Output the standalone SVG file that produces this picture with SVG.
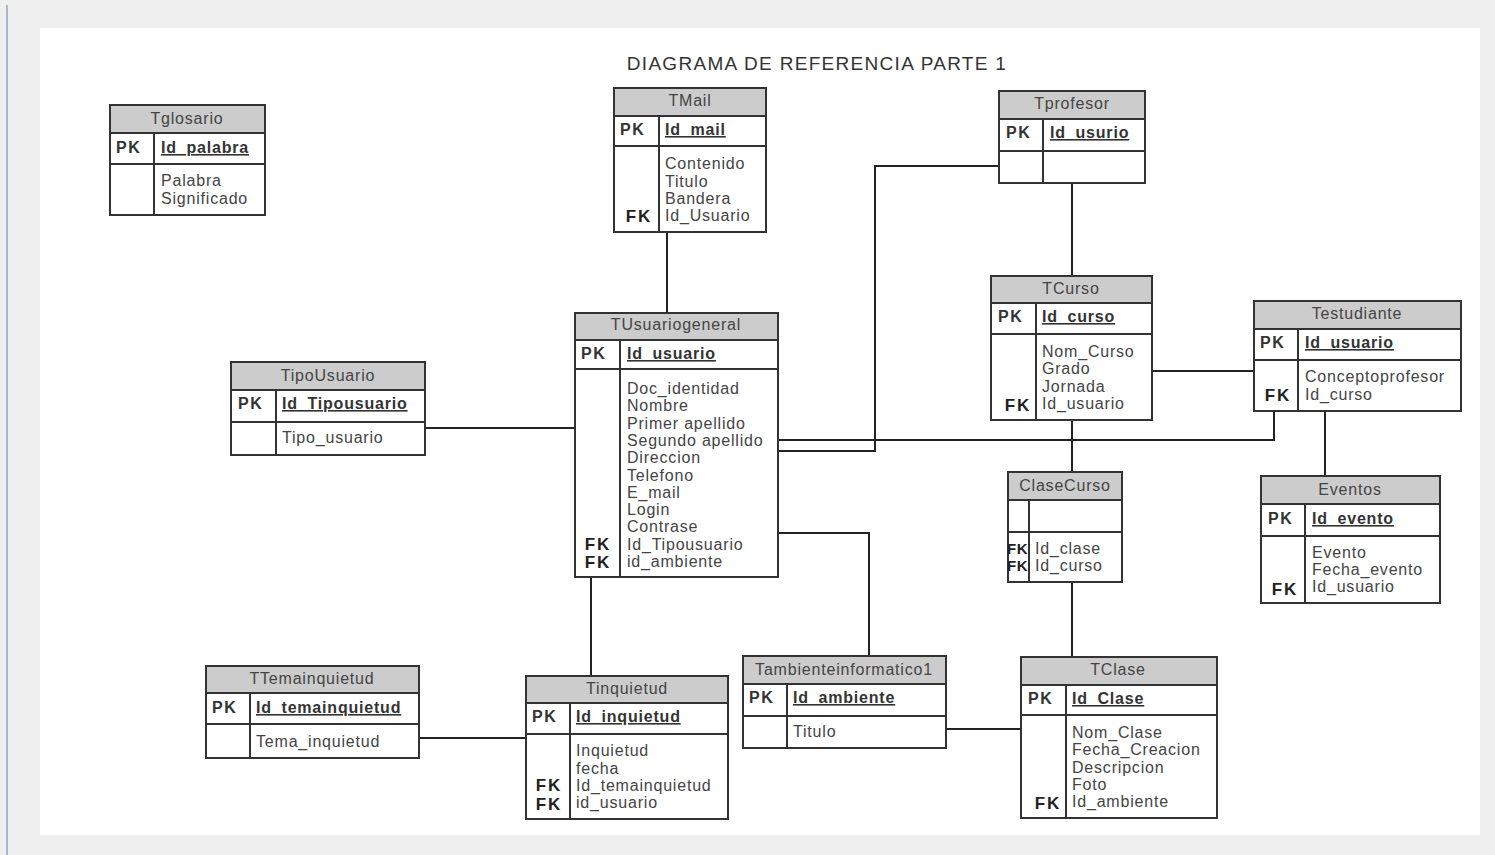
<svg xmlns="http://www.w3.org/2000/svg" width="1495" height="855" viewBox="0 0 1495 855">
<style>
.box{fill:#fff;stroke:#333;stroke-width:2}
.hdr{fill:#cccccc;stroke:#333;stroke-width:2}
.ln{stroke:#333;stroke-width:2;fill:none}
.cn{stroke:#222;stroke-width:2;fill:none}
text{font-family:"Liberation Sans",Arial,sans-serif}
.t{font-size:16px;letter-spacing:0.8px;fill:#444}
.h{font-size:16px;letter-spacing:0.8px;fill:#444;text-anchor:middle}
.pk{font-size:16px;font-weight:bold;letter-spacing:1.5px;fill:#333}
.fk{font-size:17px;font-weight:bold;letter-spacing:1.8px;fill:#222;text-anchor:end}
.fks{font-size:15px;font-weight:bold;letter-spacing:0.5px;fill:#222}
.key{font-size:16px;font-weight:bold;letter-spacing:0.8px;fill:#333;text-decoration:underline}
.title{font-size:19px;letter-spacing:1.3px;fill:#333;text-anchor:middle}
</style>
<rect x="0" y="0" width="1495" height="855" fill="#efefef"/>
<rect x="40" y="28" width="1440" height="807" fill="#ffffff"/>
<line x1="7" y1="5" x2="7" y2="855" stroke="#a8b4c8" stroke-width="2"/>
<text class="title" x="817" y="70">DIAGRAMA DE REFERENCIA PARTE 1</text>

<g id="connectors">
<path class="cn" d="M667 232V313"/>
<path class="cn" d="M425 428H575"/>
<path class="cn" d="M778 451H875V166H999"/>
<path class="cn" d="M1072 183V276"/>
<path class="cn" d="M1152 371H1254"/>
<path class="cn" d="M778 440H1274V411"/>
<path class="cn" d="M778 533H869V656"/>
<path class="cn" d="M1072 420V472"/>
<path class="cn" d="M1072 582V657"/>
<path class="cn" d="M1325 411V476"/>
<path class="cn" d="M946 729H1021"/>
<path class="cn" d="M591 577V676"/>
<path class="cn" d="M419 738H526"/>
</g>

<g id="Tglosario">
<rect class="box" x="110" y="105" width="155" height="110"/>
<rect class="hdr" x="110" y="105" width="155" height="28"/>
<path class="ln" d="M110 164H265M154 133V215"/>
<text class="h" x="187" y="124">Tglosario</text>
<text class="pk" x="116" y="153">PK</text>
<text class="key" x="161" y="153">Id_palabra</text>
<text class="t" x="161" y="186">Palabra</text>
<text class="t" x="161" y="204">Significado</text>
</g>

<g id="TMail">
<rect class="box" x="614" y="88" width="152" height="144"/>
<rect class="hdr" x="614" y="88" width="152" height="28"/>
<path class="ln" d="M614 146H766M659 116V232"/>
<text class="h" x="690" y="106">TMail</text>
<text class="pk" x="620" y="135">PK</text>
<text class="key" x="665" y="135">Id_mail</text>
<text class="t" x="665" y="169">Contenido</text>
<text class="t" x="665" y="187">Titulo</text>
<text class="t" x="665" y="204">Bandera</text>
<text class="t" x="665" y="221">Id_Usuario</text>
<text class="fk" x="652" y="222">FK</text>
</g>

<g id="Tprofesor">
<rect class="box" x="999" y="91" width="146" height="92"/>
<rect class="hdr" x="999" y="91" width="146" height="28"/>
<path class="ln" d="M999 151H1145M1043 119V183"/>
<text class="h" x="1072" y="109">Tprofesor</text>
<text class="pk" x="1006" y="138">PK</text>
<text class="key" x="1050" y="138">Id_usurio</text>
</g>

<g id="TCurso">
<rect class="box" x="991" y="276" width="161" height="144"/>
<rect class="hdr" x="991" y="276" width="161" height="27"/>
<path class="ln" d="M991 334H1152M1036 303V420"/>
<text class="h" x="1071" y="294">TCurso</text>
<text class="pk" x="998" y="322">PK</text>
<text class="key" x="1042" y="322">Id_curso</text>
<text class="t" x="1042" y="357">Nom_Curso</text>
<text class="t" x="1042" y="374">Grado</text>
<text class="t" x="1042" y="392">Jornada</text>
<text class="t" x="1042" y="409">Id_usuario</text>
<text class="fk" x="1031" y="411">FK</text>
</g>

<g id="Testudiante">
<rect class="box" x="1254" y="301" width="207" height="110"/>
<rect class="hdr" x="1254" y="301" width="207" height="28"/>
<path class="ln" d="M1254 360H1461M1298 329V411"/>
<text class="h" x="1357" y="319">Testudiante</text>
<text class="pk" x="1260" y="348">PK</text>
<text class="key" x="1305" y="348">Id_usuario</text>
<text class="t" x="1305" y="382">Conceptoprofesor</text>
<text class="t" x="1305" y="400">Id_curso</text>
<text class="fk" x="1291" y="401">FK</text>
</g>

<g id="TUsuariogeneral">
<rect class="box" x="575" y="313" width="203" height="264"/>
<rect class="hdr" x="575" y="313" width="203" height="27"/>
<path class="ln" d="M575 369H778M620 340V577"/>
<text class="h" x="676" y="330">TUsuariogeneral</text>
<text class="pk" x="581" y="359">PK</text>
<text class="key" x="627" y="359">Id_usuario</text>
<text class="t" x="627" y="394">Doc_identidad</text>
<text class="t" x="627" y="411">Nombre</text>
<text class="t" x="627" y="429">Primer apellido</text>
<text class="t" x="627" y="446">Segundo apellido</text>
<text class="t" x="627" y="463">Direccion</text>
<text class="t" x="627" y="481">Telefono</text>
<text class="t" x="627" y="498">E_mail</text>
<text class="t" x="627" y="515">Login</text>
<text class="t" x="627" y="532">Contrase</text>
<text class="t" x="627" y="550">Id_Tipousuario</text>
<text class="t" x="627" y="567">id_ambiente</text>
<text class="fk" x="611" y="550">FK</text>
<text class="fk" x="611" y="568">FK</text>
</g>

<g id="TipoUsuario">
<rect class="box" x="231" y="362" width="194" height="93"/>
<rect class="hdr" x="231" y="362" width="194" height="28"/>
<path class="ln" d="M231 422H425M276 390V455"/>
<text class="h" x="328" y="381">TipoUsuario</text>
<text class="pk" x="238" y="409">PK</text>
<text class="key" x="282" y="409">Id_Tipousuario</text>
<text class="t" x="282" y="443">Tipo_usuario</text>
</g>

<g id="ClaseCurso">
<rect class="box" x="1008" y="472" width="114" height="110"/>
<rect class="hdr" x="1008" y="472" width="114" height="28"/>
<path class="ln" d="M1008 532H1122M1029 500V582"/>
<text class="h" x="1065" y="491">ClaseCurso</text>
<text class="t" x="1035" y="554">Id_clase</text>
<text class="t" x="1035" y="571">Id_curso</text>
<text class="fks" x="1007" y="554">FK</text>
<text class="fks" x="1007" y="571">FK</text>
</g>

<g id="Eventos">
<rect class="box" x="1261" y="476" width="179" height="127"/>
<rect class="hdr" x="1261" y="476" width="179" height="28"/>
<path class="ln" d="M1261 536H1440M1305 504V603"/>
<text class="h" x="1350" y="495">Eventos</text>
<text class="pk" x="1268" y="524">PK</text>
<text class="key" x="1312" y="524">Id_evento</text>
<text class="t" x="1312" y="558">Evento</text>
<text class="t" x="1312" y="575">Fecha_evento</text>
<text class="t" x="1312" y="592">Id_usuario</text>
<text class="fk" x="1298" y="595">FK</text>
</g>

<g id="TTemainquietud">
<rect class="box" x="206" y="666" width="213" height="92"/>
<rect class="hdr" x="206" y="666" width="213" height="27"/>
<path class="ln" d="M206 724H419M250 693V758"/>
<text class="h" x="312" y="684">TTemainquietud</text>
<text class="pk" x="212" y="713">PK</text>
<text class="key" x="256" y="713">Id_temainquietud</text>
<text class="t" x="256" y="747">Tema_inquietud</text>
</g>

<g id="Tinquietud">
<rect class="box" x="526" y="676" width="202" height="143"/>
<rect class="hdr" x="526" y="676" width="202" height="27"/>
<path class="ln" d="M526 734H728M570 703V819"/>
<text class="h" x="627" y="694">Tinquietud</text>
<text class="pk" x="532" y="722">PK</text>
<text class="key" x="576" y="722">Id_inquietud</text>
<text class="t" x="576" y="756">Inquietud</text>
<text class="t" x="576" y="774">fecha</text>
<text class="t" x="576" y="791">Id_temainquietud</text>
<text class="t" x="576" y="808">id_usuario</text>
<text class="fk" x="562" y="791">FK</text>
<text class="fk" x="562" y="810">FK</text>
</g>

<g id="Tambienteinformatico1">
<rect class="box" x="743" y="656" width="203" height="92"/>
<rect class="hdr" x="743" y="656" width="203" height="28"/>
<path class="ln" d="M743 716H946M787 684V748"/>
<text class="h" x="844" y="675">Tambienteinformatico1</text>
<text class="pk" x="749" y="703">PK</text>
<text class="key" x="793" y="703">Id_ambiente</text>
<text class="t" x="793" y="737">Titulo</text>
</g>

<g id="TClase">
<rect class="box" x="1021" y="657" width="196" height="161"/>
<rect class="hdr" x="1021" y="657" width="196" height="28"/>
<path class="ln" d="M1021 715H1217M1066 685V818"/>
<text class="h" x="1118" y="675">TClase</text>
<text class="pk" x="1028" y="704">PK</text>
<text class="key" x="1072" y="704">Id_Clase</text>
<text class="t" x="1072" y="738">Nom_Clase</text>
<text class="t" x="1072" y="755">Fecha_Creacion</text>
<text class="t" x="1072" y="773">Descripcion</text>
<text class="t" x="1072" y="790">Foto</text>
<text class="t" x="1072" y="807">Id_ambiente</text>
<text class="fk" x="1061" y="809">FK</text>
</g>
</svg>
